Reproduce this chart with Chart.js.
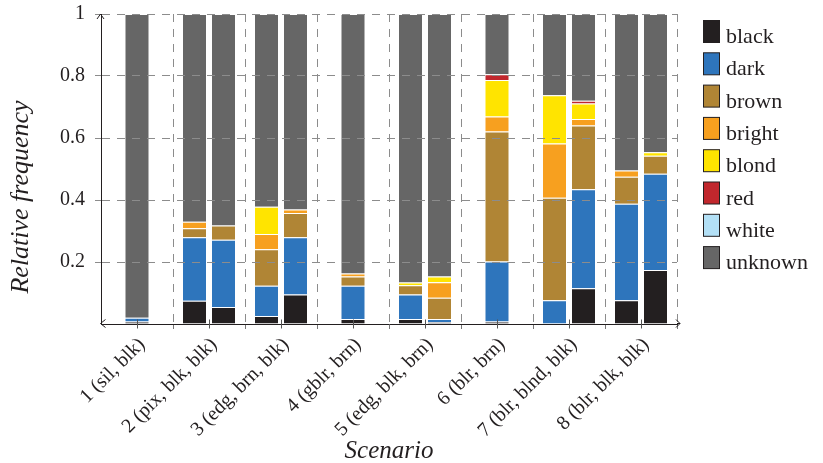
<!DOCTYPE html>
<html>
<head>
<meta charset="utf-8">
<title>Relative frequency per scenario</title>
<script src="https://cdn.jsdelivr.net/npm/chart.js@4.4.1/dist/chart.umd.min.js"></script>
<style>
  html, body { margin: 0; padding: 0; background: #fff; }
  #wrap { width: 823px; height: 463px; }
</style>
</head>
<body>
<div id="wrap"><canvas id="chart" width="823" height="463"></canvas></div>
<script>
// --- Data ---
const scenarios = [
    '1 (sil, blk)', '2 (pix, blk, blk)', '3 (edg, brn, blk)', '4 (gblr, brn)',
    '5 (edg, blk, brn)', '6 (blr, brn)', '7 (blr, blnd, blk)', '8 (blr, blk, blk)'
];
const hairClasses = ['black', 'dark', 'brown', 'bright', 'blond', 'red', 'white', 'unknown'];
const hairColors = ['#231f20', '#2e75bc', '#b08535', '#f7a01f', '#ffe400', '#c1272d', '#b3e0f6', '#666666'];
const yTicks = [0, 0.2, 0.4, 0.6, 0.8, 1];

// first bar of each scenario
const blackA   = [0.008, 0.075, 0.026, 0.016, 0.016, 0.008, 0.000, 0.077];
const darkA    = [0.012, 0.205, 0.097, 0.107, 0.079, 0.194, 0.077, 0.311];
const brownA   = [0.000, 0.029, 0.118, 0.030, 0.030, 0.419, 0.330, 0.087];
const brightA  = [0.000, 0.021, 0.049, 0.010, 0.000, 0.048, 0.175, 0.020];
const blondA   = [0.000, 0.000, 0.088, 0.000, 0.009, 0.118, 0.156, 0.000];
const redA     = [0.000, 0.000, 0.000, 0.000, 0.000, 0.019, 0.000, 0.000];
const whiteA   = [0.000, 0.000, 0.000, 0.000, 0.000, 0.000, 0.000, 0.000];
const unknownA = [0.980, 0.670, 0.622, 0.837, 0.866, 0.194, 0.262, 0.505];

// second bar (scenarios 1, 4 and 6 have only one)
const blackB   = [null, 0.055, 0.095, null, 0.006, null, 0.115, 0.174];
const darkB    = [null, 0.217, 0.185, null, 0.010, null, 0.320, 0.311];
const brownB   = [null, 0.046, 0.078, null, 0.069, null, 0.205, 0.058];
const brightB  = [null, 0.000, 0.011, null, 0.050, null, 0.021, 0.000];
const blondB   = [null, 0.000, 0.000, null, 0.018, null, 0.050, 0.011];
const redB     = [null, 0.000, 0.000, null, 0.000, null, 0.009, 0.000];
const whiteB   = [null, 0.000, 0.000, null, 0.000, null, 0.000, 0.000];
const unknownB = [null, 0.682, 0.631, null, 0.847, null, 0.280, 0.446];

const seriesA = [blackA, darkA, brownA, brightA, blondA, redA, whiteA, unknownA];
const seriesB = [blackB, darkB, brownB, brightB, blondB, redB, whiteB, unknownB];

// --- Style ---
const FONT = '"Liberation Serif", "Times New Roman", serif';
const INK = '#231f20';
const GRID = '#8c8c8c';
const NONE = 'rgba(0,0,0,0)';

Chart.defaults.font.family = FONT;
Chart.defaults.color = INK;

function makeDataset(name, i, values, stack) {
    return {
        label: name,
        data: values,
        stack: stack,
        backgroundColor: hairColors[i],
        borderColor: 'rgba(255,255,255,0.35)',
        borderWidth: c => (c.raw ? 1 : 0)
    };
}

const datasets = hairClasses.map((n, i) => makeDataset(n, i, seriesA[i], 'A'))
    .concat(hairClasses.map((n, i) => makeDataset(n, i, seriesB[i], 'B')));

// arrows, centre ticks, y title and legend
const decorations = {
    id: 'decorations',
    afterDraw(chart) {
        const { ctx, chartArea: a, scales: { x } } = chart;
        const left = Math.round(a.left) - 0.5;
        const bottom = Math.round(a.bottom) - 0.5;
        const top = Math.round(a.top);
        ctx.save();
        ctx.strokeStyle = INK;
        ctx.lineWidth = 1;

        // x axis extension with arrows on both ends
        ctx.beginPath();
        ctx.moveTo(a.right, bottom);
        ctx.lineTo(a.right + 3, bottom);
        ctx.moveTo(a.right - 1, bottom - 4);
        ctx.lineTo(a.right + 3, bottom);
        ctx.lineTo(a.right - 1, bottom + 4);
        ctx.moveTo(left + 5, bottom - 4);
        ctx.lineTo(left, bottom);
        ctx.lineTo(left + 5, bottom + 4);
        // y axis arrow
        ctx.moveTo(left - 3.5, top + 5);
        ctx.lineTo(left, top);
        ctx.lineTo(left + 3.5, top + 5);
        ctx.stroke();

        // tick marks at scenario centres
        ctx.strokeStyle = '#555';
        ctx.beginPath();
        scenarios.forEach((s, i) => {
            const px = Math.round(x.getPixelForTick(i)) + 0.5;
            ctx.moveTo(px, bottom - 4);
            ctx.lineTo(px, bottom + 5);
        });
        ctx.stroke();

        // y axis title
        ctx.save();
        ctx.fillStyle = INK;
        ctx.font = 'italic 26px ' + FONT;
        ctx.textAlign = 'center';
        ctx.textBaseline = 'middle';
        ctx.translate(21, 197);
        ctx.rotate(-Math.PI / 2);
        ctx.fillText('Relative frequency', 0, 0);
        ctx.restore();

        // legend
        ctx.font = '22px ' + FONT;
        ctx.textAlign = 'left';
        ctx.textBaseline = 'alphabetic';
        hairClasses.forEach((name, i) => {
            const y = 20.5 + i * 32.3;
            ctx.fillStyle = hairColors[i];
            ctx.fillRect(703.5, y, 16, 22);
            ctx.strokeStyle = INK;
            ctx.strokeRect(703.5, y, 16, 22);
            ctx.fillStyle = INK;
            ctx.fillText(name, 726, y + 22.5);
        });
        ctx.restore();
    }
};

new Chart(document.getElementById('chart'), {
    type: 'bar',
    data: { labels: scenarios, datasets: datasets },
    options: {
        responsive: false,
        animation: false,
        devicePixelRatio: 1,
        layout: { padding: { top: 14, right: 146, bottom: 0, left: 0 } },
        datasets: {
            bar: {
                skipNull: true,
                categoryPercentage: 58 / 72,
                barPercentage: 1,
                maxBarThickness: 25
            }
        },
        plugins: {
            legend: { display: false },
            tooltip: { enabled: false }
        },
        scales: {
            x: {
                stacked: true,
                afterFit: s => { s.height = 139; },
                grid: {
                    offset: true,
                    color: c => (c.index === 0 || c.index === scenarios.length) ? NONE : GRID,
                    tickColor: c => (c.index === 0 || c.index === scenarios.length) ? NONE : '#777',
                    tickLength: 5
                },
                border: { display: true, color: INK, width: 1, dash: [8, 7], z: 2 },
                ticks: {
                    autoSkip: false,
                    maxRotation: 45,
                    minRotation: 45,
                    padding: 4,
                    labelOffset: 5,
                    font: { size: 20 },
                    color: INK
                },
                title: {
                    display: true,
                    text: 'Scenario',
                    font: { size: 25, style: 'italic', lineHeight: 0.9 },
                    padding: { top: 0, bottom: 0 },
                    color: INK
                }
            },
            y: {
                stacked: true,
                min: yTicks[0],
                max: yTicks[yTicks.length - 1],
                afterFit: s => { s.width = 101; s.paddingTop = 0; s.paddingBottom = 0; },
                afterBuildTicks: s => { s.ticks = yTicks.map(v => ({ value: v })); },
                grid: {
                    z: 1,
                    color: c => (c.tick && c.tick.value === 0) ? NONE : GRID,
                    tickColor: c => (c.tick && c.tick.value === 0) ? NONE : GRID,
                    tickLength: 6
                },
                border: { display: true, color: INK, width: 1, dash: [8, 7], z: 2 },
                ticks: {
                    padding: 10,
                    font: { size: 20 },
                    color: INK,
                    callback: v => (v === 0 ? '' : String(v))
                }
            }
        }
    },
    plugins: [decorations]
});
</script>
</body>
</html>
